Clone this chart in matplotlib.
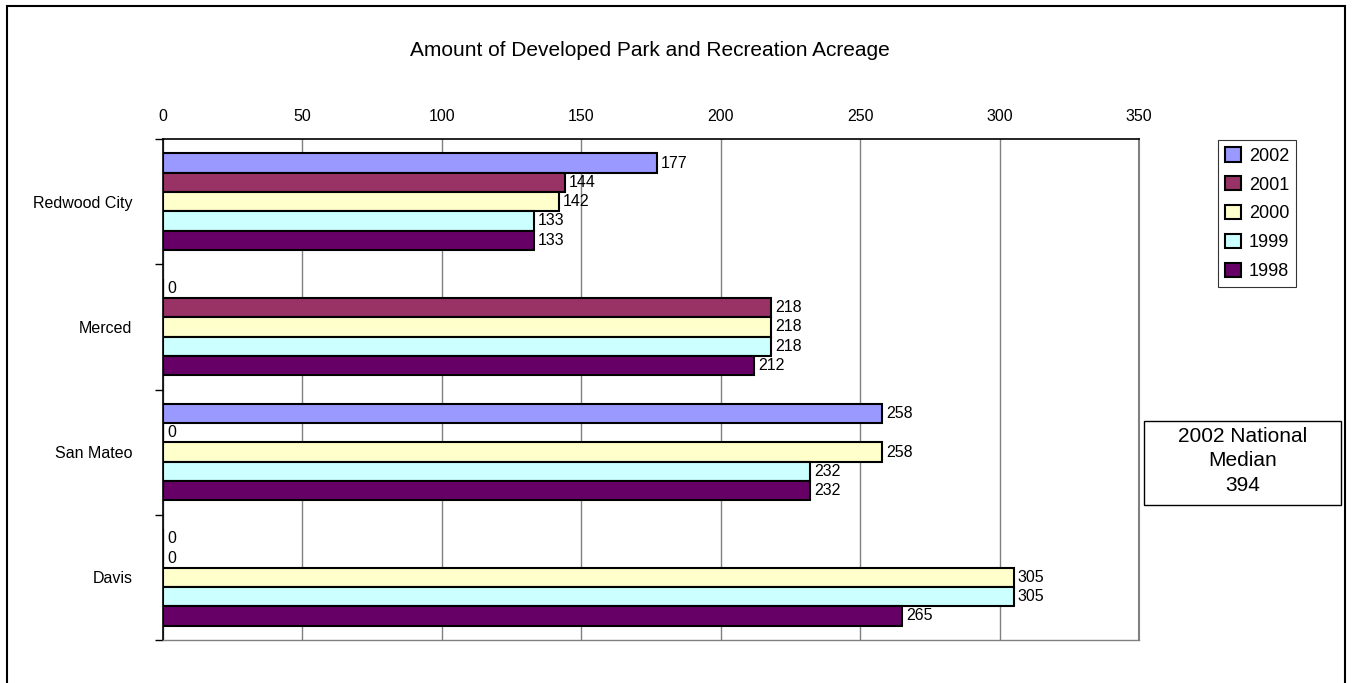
import matplotlib
matplotlib.use("Agg")
import matplotlib.pyplot as plt
import numpy as np
from matplotlib.patches import Rectangle

categories = ["Redwood City", "Merced", "San Mateo", "Davis"]
series_names = ["2002", "2001", "2000", "1999", "1998"]
values = {
    "2002": [177, 0, 258, 0],
    "2001": [144, 218, 0, 0],
    "2000": [142, 218, 258, 305],
    "1999": [133, 218, 232, 305],
    "1998": [133, 212, 232, 265],
}
colors = {
    "2002": "#9999FF",
    "2001": "#993366",
    "2000": "#FFFFCC",
    "1999": "#CCFFFF",
    "1998": "#660066",
}
title = "Amount of Developed Park and Recreation Acreage"
note = "2002 National\nMedian\n394"

plt.rcParams["font.family"] = ["Liberation Sans", "DejaVu Sans"]

fig = plt.figure(figsize=(13.52, 6.83), dpi=100)
W, H = 1352, 683
ax = fig.add_axes([163 / W, 1 - 640 / H, (1139 - 163) / W, (640 - 139) / H])

FS = 11.5
h = 0.154
y0 = np.arange(len(categories))
for i, s in enumerate(series_names):
    ys = y0 + (i - 2) * h
    vals = values[s]
    ax.barh(ys, vals, height=h, color=colors[s], edgecolor="black", linewidth=1.5, label=s, zorder=3)
    for y, v in zip(ys, vals):
        ax.annotate(str(v), (v, y), xytext=(3, 0), textcoords="offset points",
                    va="center", ha="left", fontsize=FS, zorder=4)

ax.set_xlim(0, 350)
ax.set_ylim(3.5, -0.5)
ax.xaxis.tick_top()
ax.set_xticks(np.arange(0, 351, 50))
ax.tick_params(axis="x", length=0, pad=11, labelsize=FS)
ax.set_yticks(y0)
ax.set_yticklabels(categories)
ax.tick_params(axis="y", which="major", length=0, pad=22, labelsize=FS)
ax.set_yticks(np.arange(-0.5, 3.6, 1.0), minor=True)
ax.tick_params(axis="y", which="minor", length=6, width=1, color="black", direction="out")
ax.grid(axis="x", color="#808080", linewidth=1, zorder=0)

ax.spines["top"].set_color("black")
ax.spines["top"].set_linewidth(1.2)
ax.spines["left"].set_color("black")
ax.spines["left"].set_linewidth(1.2)
ax.spines["right"].set_color("#808080")
ax.spines["right"].set_linewidth(1.5)
ax.spines["bottom"].set_color("#808080")
ax.spines["bottom"].set_linewidth(1.0)

fig.text(650 / W, 1 - 51 / H, title, ha="center", va="center", fontsize=15)

leg = fig.legend(loc="upper left", bbox_to_anchor=(1218 / W, 1 - 140 / H),
                 frameon=True, fancybox=False, edgecolor="black", fontsize=13,
                 handlelength=0.85, handleheight=0.85, handletextpad=0.45,
                 labelspacing=0.63, borderpad=0.4, borderaxespad=0)
leg.get_frame().set_linewidth(0.8)

fig.patches.append(Rectangle((1144 / W, 1 - 505 / H), (1341 - 1144) / W, (505 - 421) / H,
                             transform=fig.transFigure, fill=False, edgecolor="black", linewidth=1))
fig.text((1144 + 1341) / 2 / W, 1 - 461 / H, note, ha="center", va="center",
         fontsize=15, linespacing=1.35)

fig.patches.append(Rectangle((7 / W, -0.05), (1345 - 7) / W, 1 - 6 / H + 0.05,
                             transform=fig.transFigure, fill=False, edgecolor="black", linewidth=1.5))

fig.savefig("out.png", dpi=100)
